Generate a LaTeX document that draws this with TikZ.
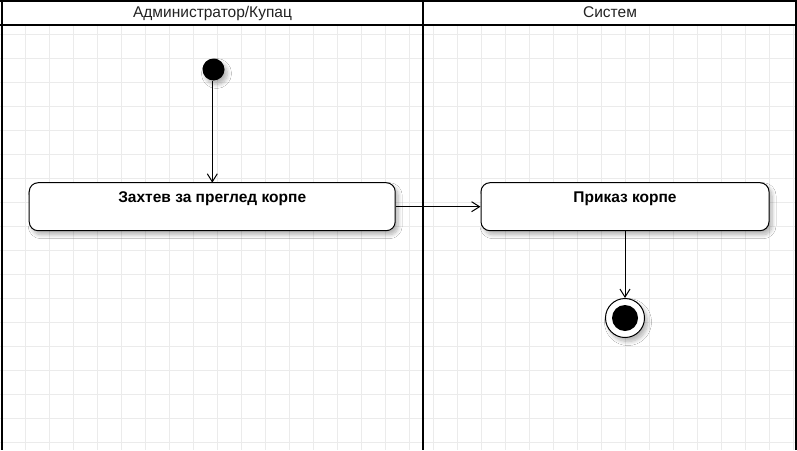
\documentclass[tikz,border=0pt]{standalone}
\usepackage{fontspec}
\setmainfont{Liberation Sans}
\usetikzlibrary{arrows.meta,shadows.blur}
\definecolor{gridc}{HTML}{EBEBEB}
\definecolor{headtxt}{HTML}{222222}
\tikzset{
  myshadow/.style={blur shadow={shadow xshift=3pt,shadow yshift=-4pt,shadow blur radius=4pt,shadow blur steps=8,shadow opacity=30}},
  actbox/.style={draw=black,line width=1pt,rounded corners=9pt,fill=white,minimum width=366pt,
     text height=19.3pt,text depth=28.7pt,inner ysep=0pt,font=\bfseries\fontsize{15.5}{18}\selectfont,myshadow},
  lanebar/.style={line width=2pt,draw=black},
  headtext/.style={font=\fontsize{15.5}{18}\selectfont,text=headtxt,anchor=base,inner sep=0pt},
  flow/.style={draw=black,line width=1pt,-{Straight Barb[length=8pt,width=10pt,line width=1pt]}},
  startdot/.style={circle,fill=black,minimum size=22pt,inner sep=0pt,myshadow},
  endring/.style={circle,draw=black,line width=1pt,fill=white,minimum size=39pt,inner sep=0pt,myshadow},
  enddot/.style={circle,fill=black,minimum size=26pt,inner sep=0pt}
}
\begin{document}
\begin{tikzpicture}[x=1pt,y=-1pt]
\useasboundingbox (0,0) rectangle (797,450);
\fill[white] (0,0) rectangle (797,450);
% grid
\foreach \k in {0,...,33} {\draw[gridc,line width=1pt] (1.3+24*\k,25) -- (1.3+24*\k,450);}
\foreach \k in {1,...,18} {\draw[gridc,line width=1pt] (0,10+24*\k) -- (797,10+24*\k);}
% header
\fill[white] (1,1) rectangle (796,25);
\draw[lanebar] (0,1) -- (797,1);
\draw[lanebar] (0,25) -- (797,25);
\draw[lanebar] (1.5,0) -- (1.5,450);
\draw[lanebar] (423.3,0) -- (423.3,450);
\draw[lanebar] (796,0) -- (796,450);
\node[headtext] (h1) at (212.5,17) {Администратор/Купац};
\node[headtext] (h2) at (610,17) {Систем};
% nodes
\node[startdot] (start) at (213.5,69.5) {};
\node[actbox] (req) at (212.2,206.7) {Захтев за преглед корпе};
\node[actbox,minimum width=288pt] (show) at (625,206.7) {Приказ корпе};
\node[endring] (endo) at (625,318) {};
\node[enddot] (endi) at (625,318) {};
% connectors
\coordinate (a1) at (212.3,80.5);
\coordinate (a2) at (212.3,182.7);
\draw[flow] (a1) -- (a2);
\draw[flow] (req.east) -- (show.west);
\draw[flow] (show.south) -- (endo.north);
\end{tikzpicture}
\end{document}
